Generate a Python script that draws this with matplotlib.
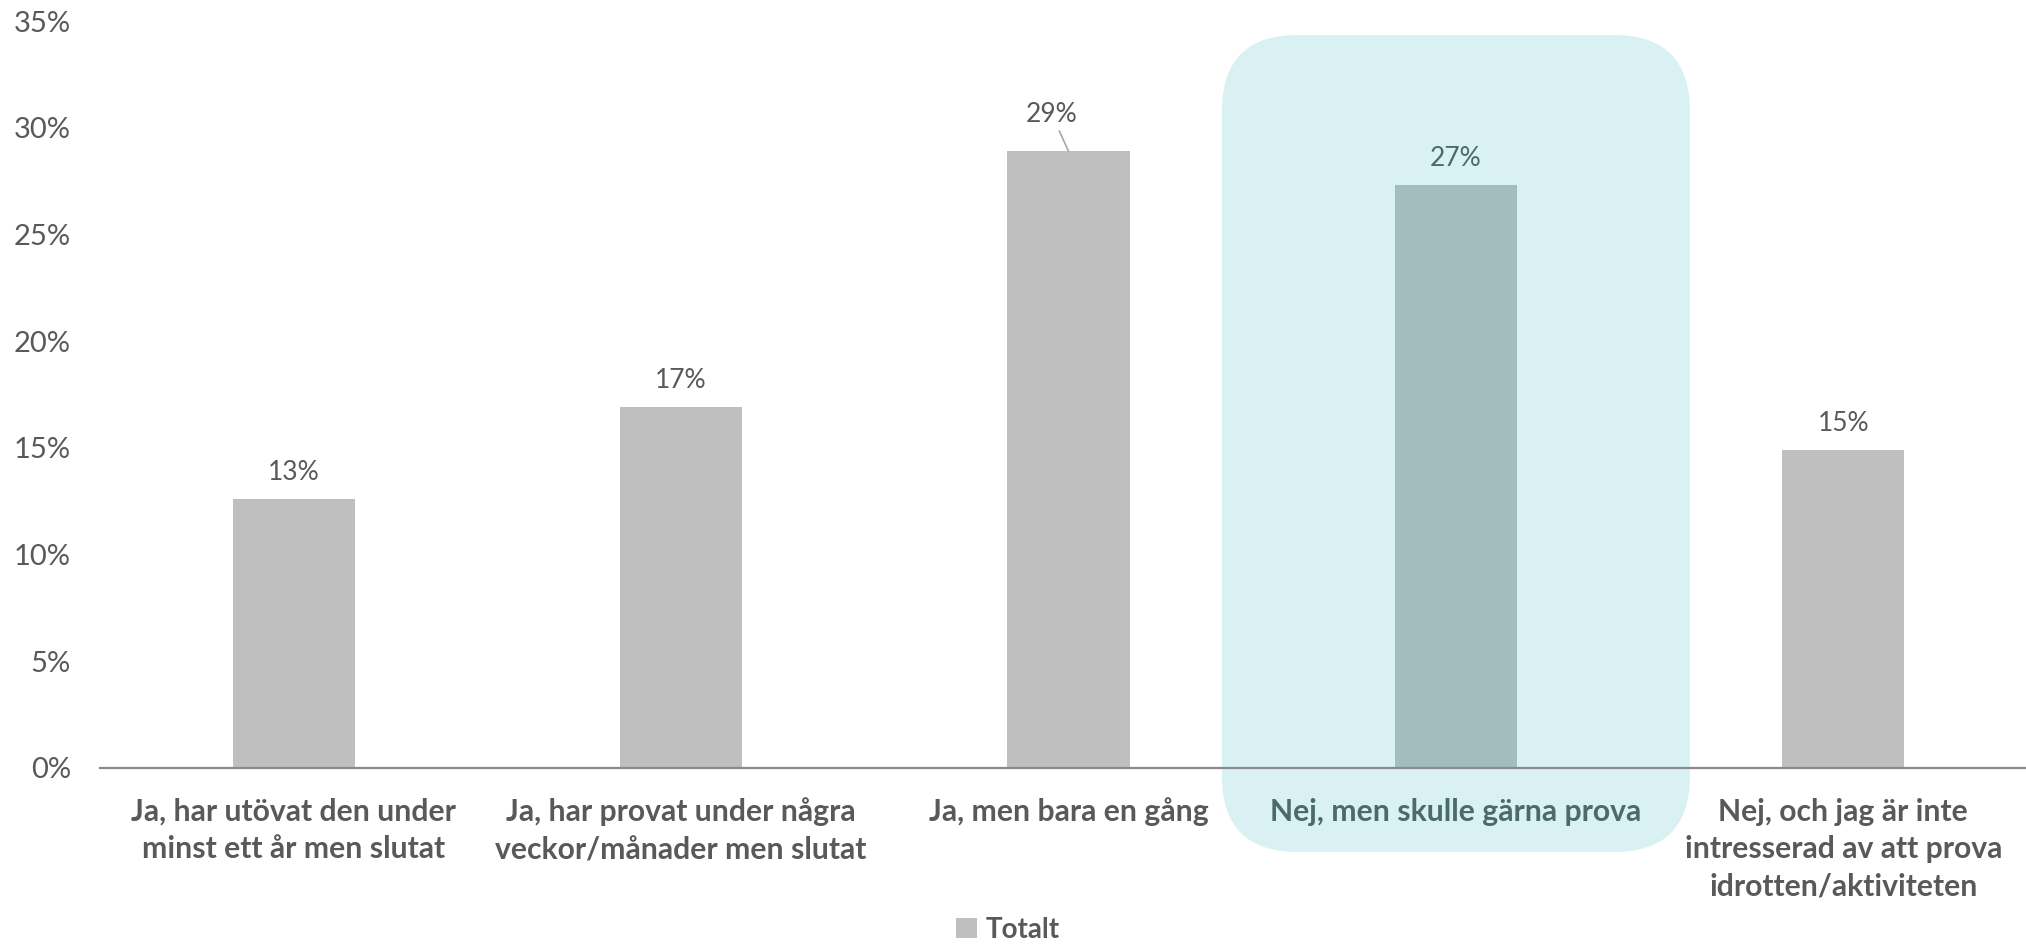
import matplotlib
matplotlib.use("Agg")
import matplotlib.pyplot as plt
from matplotlib.patches import FancyBboxPatch

# Survey answers (share of all respondents)
categories = [
    "Ja, har utövat den under\nminst ett år men slutat",
    "Ja, har provat under några\nveckor/månader men slutat",
    "Ja, men bara en gång",
    "Nej, men skulle gärna prova",
    "Nej, och jag är inte\nintresserad av att prova\nidrotten/aktiviteten",
]
values = [12.6, 16.9, 28.9, 27.3, 14.9]
value_labels = ["13%", "17%", "29%", "27%", "15%"]
series_name = "Totalt"
yticks = [0, 5, 10, 15, 20, 25, 30, 35]
highlight_idx = 3

GRAY = "#BFBFBF"
TEXT = "#595959"
HL_BAR = "#A3BCBD"
HL_BOX = "#D9F1F3"
HL_TEXT = "#4B6A6C"
AXIS = "#8A8A8A"

FONT = "Lato"
plt.rcParams["font.family"] = [FONT, "DejaVu Sans"]

W, H, DPI = 2026, 944, 100
fig = plt.figure(figsize=(W / DPI, H / DPI), dpi=DPI)
ax = fig.add_axes([100 / W, 176.3 / H, 1 - 100 / W, (767.7 - 21.1) / H])
ax.patch.set_visible(False)

x = list(range(len(categories)))
colors = [HL_BAR if i == highlight_idx else GRAY for i in x]
bars = ax.bar(x, values, width=0.315, color=colors, zorder=3,
              label=series_name)

ax.set_xlim(-0.5, -0.5 + 1926 / 387.4)
ax.set_ylim(0, 35)
ax.set_yticks(yticks)
ax.set_yticklabels([f"{t}%" for t in yticks], fontsize=21, color=TEXT)
ax.tick_params(axis="y", length=0, pad=21)
ax.set_xticks([])

for s in ["top", "right", "left"]:
    ax.spines[s].set_visible(False)
ax.spines["bottom"].set_color(AXIS)
ax.spines["bottom"].set_linewidth(1.6)
ax.spines["bottom"].set_zorder(4)

# category labels under the axis
for i, lab in enumerate(categories):
    ax.annotate(lab, xy=(i, 0), xycoords="data",
                xytext=(0, -21.5), textcoords="offset points",
                ha="center", va="top", fontsize=21.7, fontweight="bold",
                linespacing=1.42,
                color=HL_TEXT if i == highlight_idx else TEXT)

# value labels
for i, (v, lab) in enumerate(zip(values, value_labels)):
    c = HL_TEXT if i == highlight_idx else TEXT
    if i == 2:
        ax.annotate(lab, xy=(i, v), xytext=(-12, 26.5),
                    textcoords="offset points", ha="center", va="center",
                    fontsize=19, color=c,
                    arrowprops=dict(arrowstyle="-", color="#A6A6A6",
                                    lw=1.2, shrinkA=1, shrinkB=0))
    else:
        ax.annotate(lab, xy=(i, v), xytext=(0, 19),
                    textcoords="offset points", ha="center", va="center",
                    fontsize=19, color=c)

# rounded highlight panel behind the highlighted category
fig.canvas.draw()
x0 = ax.transData.transform((highlight_idx - 0.604, 0))[0]
x1 = ax.transData.transform((highlight_idx + 0.604, 0))[0]
y_top = H - 35
y_bot = H - 852
rad = 76
box = FancyBboxPatch((x0 + rad, y_bot + rad), (x1 - x0) - 2 * rad,
                     (y_top - y_bot) - 2 * rad,
                     boxstyle=f"round,pad={rad},rounding_size={rad}",
                     transform=None, facecolor=HL_BOX, edgecolor="none",
                     zorder=0.5, clip_on=False)
ax.add_patch(box)

leg = ax.legend(loc="center", bbox_to_anchor=(1008 / W, 14 / H),
                bbox_transform=fig.transFigure, frameon=False,
                handlelength=0.75, handleheight=0.75, handletextpad=0.3,
                prop={"family": FONT, "weight": "bold", "size": 20})
for t in leg.get_texts():
    t.set_color(TEXT)

fig.savefig("out.png", dpi=DPI)
